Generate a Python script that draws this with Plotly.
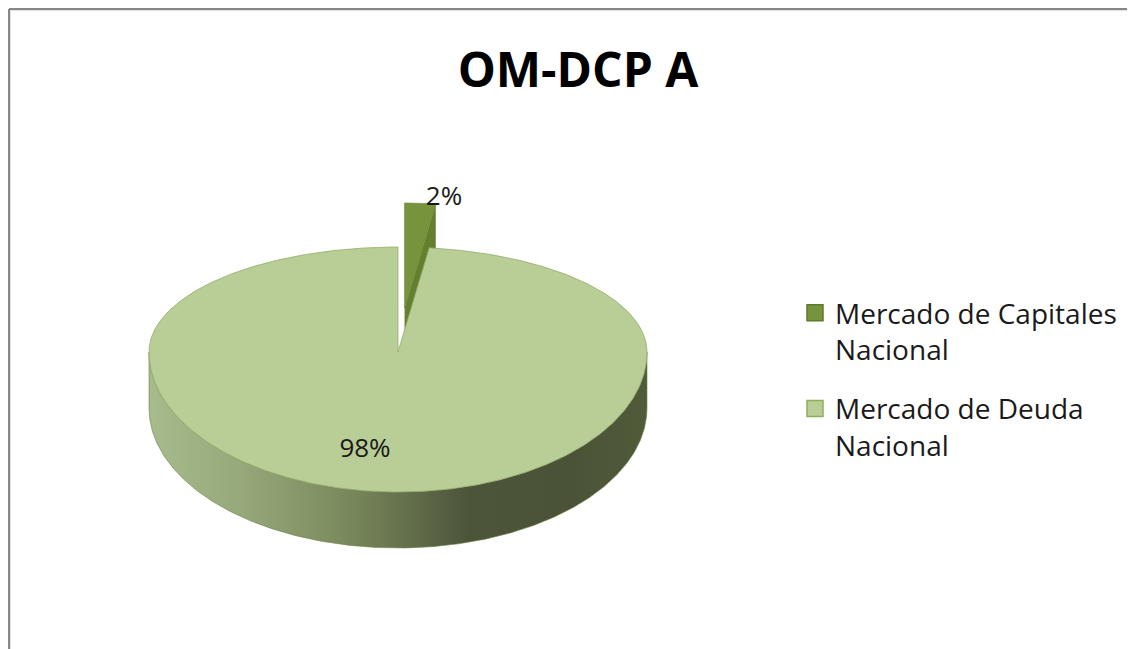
import math
import plotly.graph_objects as go

# ---- data ----
title = "OM-DCP A"
categories = ["Mercado de Capitales Nacional", "Mercado de Deuda Nacional"]
legend_text = ["Mercado de Capitales<br>Nacional", "Mercado de Deuda<br>Nacional"]
values = [2, 98]
top_colors = ["#77933C", "#B9CD96"]
face_colors = ["#64802F", "#8AA463"]

# ---- geometry (screen pixel space; page body has an 8px margin) ----
SW, SH = 1135, 649         # window size
OFF = 8
W, H = SW - OFF, SH - OFF  # figure size so it fits the window
CX, CY = 398, 352          # pie apex
RX = 249                   # horizontal radius
RY_BACK, RY_FRONT = 105, 140  # perspective: far half flatter than near half
DEPTH = 56
EXPLODE = [0.42, 0.0]      # fraction of radius

def pt(theta_deg, dx=0.0, dy=0.0, down=0.0):
    t = math.radians(theta_deg)
    c = math.cos(t)
    ry = RY_BACK if c > 0 else RY_FRONT
    return CX + dx + RX * math.sin(t), CY + dy - ry * c + down

def arc(a0, a1, dx=0.0, dy=0.0, down=0.0, n=None):
    n = n or max(4, int(abs(a1 - a0) * 2))
    xs, ys = [], []
    for i in range(n + 1):
        a = a0 + (a1 - a0) * i / n
        x, y = pt(a, dx, dy, down)
        xs.append(x); ys.append(y)
    return xs, ys

total = sum(values)
starts, ends = [], []
acc = 0
for v in values:
    starts.append(360 * acc / total)
    acc += v
    ends.append(360 * acc / total)

offsets = []
for i in range(len(values)):
    mid = math.radians((starts[i] + ends[i]) / 2)
    offsets.append((EXPLODE[i] * RX * math.sin(mid), -EXPLODE[i] * RY_BACK * math.cos(mid)))

fig = go.Figure()

# main slice side (front rim) with horizontal gradient
a0, a1 = 90, 270
dx, dy = offsets[1]
xs_t, ys_t = arc(a0, a1, dx, dy)
xs_b, ys_b = arc(a1, a0, dx, dy, down=DEPTH)
fig.add_trace(go.Scatter(
    x=xs_t + xs_b + [xs_t[0]], y=ys_t + ys_b + [ys_t[0]],
    mode="lines", line=dict(width=0.6, color="#6E8046"), fill="toself",
    fillgradient=dict(type="horizontal", colorscale=[
        [0.0, "#A8BB8C"], [0.18, "#97A97A"], [0.38, "#7C8C5F"],
        [0.52, "#646F4B"], [0.64, "#4C543A"], [0.85, "#4A5337"], [1.0, "#505B3A"]]),
    hoverinfo="skip", showlegend=False))

# small exploded slice: radial cut face at its end angle, then top
dx, dy = offsets[0]
ax, ay = CX + dx, CY + dy
rx_, ry_ = pt(ends[0], dx, dy)
fig.add_trace(go.Scatter(
    x=[ax, rx_, rx_, ax, ax], y=[ay, ry_, ry_ + DEPTH, ay + DEPTH, ay],
    mode="lines", line=dict(width=0), fill="toself", fillcolor=face_colors[0],
    hoverinfo="skip", showlegend=False))
xs, ys = arc(starts[0], ends[0], dx, dy)
fig.add_trace(go.Scatter(
    x=[ax] + xs + [ax], y=[ay] + ys + [ay],
    mode="lines", line=dict(width=0.6, color="#6A8535"), fill="toself",
    fillcolor=top_colors[0], hoverinfo="skip", showlegend=False))

# main slice top
dx, dy = offsets[1]
ax, ay = CX + dx, CY + dy
xs, ys = arc(starts[1], ends[1], dx, dy)
fig.add_trace(go.Scatter(
    x=[ax] + xs + [ax], y=[ay] + ys + [ay],
    mode="lines", line=dict(width=0.8, color="#93AD68"), fill="toself",
    fillcolor=top_colors[1], hoverinfo="skip", showlegend=False))

# percentage labels
pct = [f"{round(100 * v / total)}%" for v in values]
label_pos = [(444, 198), (365, 450)]
fig.add_trace(go.Scatter(
    x=[p[0] for p in label_pos], y=[p[1] for p in label_pos],
    mode="text", text=pct, textposition="middle center",
    textfont=dict(family="Open Sans", size=26, color="#1a1a1a"),
    hoverinfo="skip", showlegend=False))

# legend entries
for i, name in enumerate(legend_text):
    fig.add_trace(go.Scatter(
        x=[None], y=[None], mode="markers", name=name, legendgroup=f"g{i}",
        marker=dict(symbol="square", size=18, color=top_colors[i],
                    line=dict(width=1.5, color="#5E7A2B" if i == 0 else "#8FAE5C"))))

border = dict(color="#878787", width=2.5)
fig.update_layout(
    width=W, height=H, autosize=False,
    margin=dict(l=0, r=0, t=0, b=0),
    paper_bgcolor="white", plot_bgcolor="white",
    xaxis=dict(range=[OFF, SW], visible=False, fixedrange=True),
    yaxis=dict(range=[SH, OFF], visible=False, fixedrange=True),
    title=dict(text=f"<b>{title}</b>", x=(578 - OFF) / W, xanchor="center",
               y=1 - (70 - OFF) / H, yanchor="middle",
               font=dict(family="Open Sans", size=48, color="black")),
    legend=dict(x=(795 - OFF) / W, y=1 - (288 - OFF) / H, xanchor="left", yanchor="top",
                font=dict(family="Open Sans", size=28, color="#1a1a1a"),
                tracegroupgap=20, valign="top", itemwidth=30,
                bgcolor="rgba(0,0,0,0)"),
    shapes=[
        dict(type="line", xref="paper", yref="paper",
             x0=1 / W, y0=-0.2, x1=1 / W, y1=1 - 1 / H, line=border),
        dict(type="line", xref="paper", yref="paper",
             x0=1 / W, y0=1 - 1 / H, x1=1.3, y1=1 - 1 / H, line=border),
    ],
)

fig.write_html("out.html", config={"displayModeBar": False})
